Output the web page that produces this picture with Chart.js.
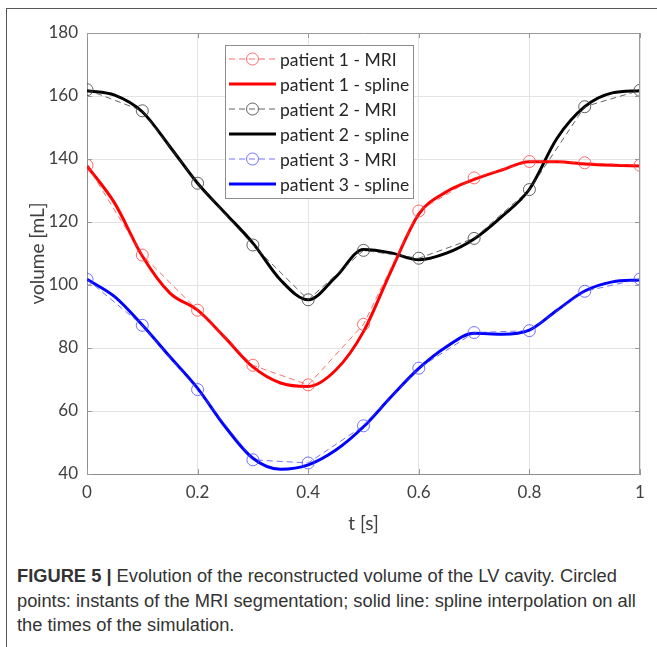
<!DOCTYPE html>
<html>
<head>
<meta charset="utf-8">
<script src="https://cdn.jsdelivr.net/npm/chart.js@4.4.0/dist/chart.umd.min.js"></script>
<style>
  html, body { margin: 0; padding: 0; background: #fff; }
  #wrap { position: relative; width: 657px; height: 647px; overflow: hidden; }
  #frame { position: absolute; left: 6px; top: 8px; width: 660px; height: 660px;
           border-left: 1.5px solid #555; border-top: 1.5px solid #555; }
  #chart { position: absolute; left: 0; top: 0; }
  #caption { position: absolute; left: 17px; top: 564px; color: #333;
             font-family: "Liberation Sans", Arial, sans-serif; font-size: 18.3px;
             line-height: 24.5px; white-space: nowrap; }
  #caption b { font-weight: bold; }
</style>
</head>
<body>
<div id="wrap">
  <div id="frame"></div>
  <canvas id="chart" width="657" height="548"></canvas>
  <div id="caption">
    <b>FIGURE 5 |</b> Evolution of the reconstructed volume of the LV cavity. Circled<br>
    points: instants of the MRI segmentation; solid line: spline interpolation on all<br>
    the times of the simulation.
  </div>
</div>
<script>
// MRI instants (s) and measured volumes (mL)
var mriTimes = [0, 0.1, 0.2, 0.3, 0.4, 0.5, 0.6, 0.7, 0.8, 0.9, 1];
var p1Mri = [138, 109.5, 92, 74.5, 68.3, 87.5, 123.5, 134, 139.2, 138.8, 138];
var p2Mri = [162, 155.3, 132.3, 112.7, 95.3, 111, 108.5, 114.8, 130.3, 156.6, 161.8];
var p3Mri = [101.8, 87.2, 66.8, 44.5, 43.5, 55.3, 73.6, 84.9, 85.5, 98, 101.9];

// spline curves read at 0.05 s
var splineTimes = [0, 0.05, 0.1, 0.15, 0.2, 0.25, 0.3, 0.35, 0.4, 0.45, 0.5,
                   0.55, 0.6, 0.65, 0.7, 0.75, 0.8, 0.85, 0.9, 0.95, 1];
var p1Spline = [137.8, 126, 109.2, 97.4, 92, 83.2, 74, 68.9, 67.8, 73, 85.2,
                104.5, 122.5, 129.6, 133.5, 136.5, 139.1, 139.1, 138.4, 138, 137.8];
var p2Spline = [161.7, 160.3, 155, 143.9, 132.3, 122.8, 113.3, 101.6, 95.3, 102.6, 111.3,
                110.2, 108, 110.1, 114.6, 121.7, 130.4, 146.6, 156.6, 161, 161.7];
var p3Spline = [101.8, 96.3, 87.3, 77.2, 67.2, 55, 45, 41.5, 42.9, 47.6, 55,
                64.5, 73.5, 80.4, 84.7, 84.4, 85.7, 92, 98.1, 101, 101.6];

var xTicks = [0, 0.2, 0.4, 0.6, 0.8, 1];
var yMin = 40, yMax = 180, yStep = 20;

var seriesNames = ['patient 1 - MRI', 'patient 1 - spline', 'patient 2 - MRI',
                   'patient 2 - spline', 'patient 3 - MRI', 'patient 3 - spline'];

var axisFont = { family: 'Lato, "Open Sans", sans-serif', size: 17 };
var titleFont = { family: 'Lato, "Open Sans", sans-serif', size: 19 };
var axisColor = '#404040';

function toPoints(xs, ys) {
  return xs.map(function (x, i) { return { x: x, y: ys[i] }; });
}

function mriSet(label, values, color) {
  return {
    label: label, data: toPoints(mriTimes, values),
    borderColor: color, borderWidth: 1, borderDash: [6, 4],
    pointRadius: 6, pointHoverRadius: 6, pointBorderWidth: 1,
    pointBorderColor: color, pointBackgroundColor: 'rgba(0,0,0,0)',
    tension: 0, order: 1
  };
}

function splineSet(label, values, color) {
  return {
    label: label, data: toPoints(splineTimes, values),
    borderColor: color, borderWidth: 3, pointRadius: 0,
    cubicInterpolationMode: 'monotone', order: 2
  };
}

// MATLAB style box + inward ticks
var boxPlugin = {
  id: 'box',
  afterDraw: function (chart) {
    var a = chart.chartArea, c = chart.ctx, ys = chart.scales.y, xs = chart.scales.x;
    c.save();
    c.strokeStyle = '#9a9a9a';
    c.lineWidth = 1;
    c.beginPath();
    c.moveTo(a.left, a.top + 0.5); c.lineTo(a.right, a.top + 0.5);
    c.moveTo(a.right - 0.5, a.top); c.lineTo(a.right - 0.5, a.bottom);
    ys.ticks.forEach(function (t) {
      var y = Math.round(ys.getPixelForValue(t.value)) + 0.5;
      c.moveTo(a.left, y); c.lineTo(a.left + 5, y);
      c.moveTo(a.right, y); c.lineTo(a.right - 5, y);
    });
    xs.ticks.forEach(function (t) {
      var x = Math.round(xs.getPixelForValue(t.value)) + 0.5;
      c.moveTo(x, a.bottom); c.lineTo(x, a.bottom - 5);
      c.moveTo(x, a.top); c.lineTo(x, a.top + 5);
    });
    c.stroke();
    c.restore();
  }
};

// legend drawn inside the axes, top centre
var legendPlugin = {
  id: 'insideLegend',
  afterDraw: function (chart) {
    var a = chart.chartArea, c = chart.ctx;
    var left = a.left + 138, top = a.top + 12, w = 188, rowH = 25;
    var sets = chart.data.datasets;
    c.save();
    c.fillStyle = '#fff';
    c.strokeStyle = '#8c8c8c';
    c.lineWidth = 1;
    c.fillRect(left, top, w, rowH * sets.length + 3);
    c.strokeRect(left + 0.5, top + 0.5, w, rowH * sets.length + 3);
    c.font = '17.5px ' + axisFont.family;
    c.textBaseline = 'middle';
    sets.forEach(function (ds, i) {
      var y = top + 14 + i * rowH;
      var x0 = left + 4, x1 = left + 51;
      c.strokeStyle = ds.borderColor;
      c.beginPath();
      if (ds.borderDash) {
        c.lineWidth = 1;
        c.setLineDash(ds.borderDash);
        c.moveTo(x0, y); c.lineTo(x1, y);
        c.stroke();
        c.setLineDash([]);
        c.beginPath();
        c.arc((x0 + x1) / 2, y, 6, 0, Math.PI * 2);
        c.stroke();
      } else {
        c.lineWidth = 3;
        c.moveTo(x0, y); c.lineTo(x1, y);
        c.stroke();
      }
      c.fillStyle = '#262626';
      c.fillText(ds.label, left + 55, y + 1);
    });
    c.restore();
  }
};

new Chart(document.getElementById('chart').getContext('2d'), {
  type: 'line',
  data: {
    datasets: [
      mriSet(seriesNames[0], p1Mri, 'rgba(255,60,60,0.75)'),
      splineSet(seriesNames[1], p1Spline, '#ff0000'),
      mriSet(seriesNames[2], p2Mri, 'rgba(60,60,60,0.8)'),
      splineSet(seriesNames[3], p2Spline, '#000000'),
      mriSet(seriesNames[4], p3Mri, 'rgba(70,70,255,0.75)'),
      splineSet(seriesNames[5], p3Spline, '#0000ff')
    ]
  },
  options: {
    responsive: false,
    animation: false,
    devicePixelRatio: 1,
    layout: { padding: { top: 33, right: 17, left: 0, bottom: 0 } },
    plugins: { legend: { display: false }, tooltip: { enabled: false } },
    scales: {
      x: {
        type: 'linear', min: 0, max: 1,
        afterBuildTicks: function (s) { s.ticks = xTicks.map(function (v) { return { value: v }; }); },
        ticks: {
          font: axisFont, color: axisColor, padding: 8, maxRotation: 0,
          callback: function (v) { return String(Math.round(v * 10) / 10); }
        },
        grid: { color: '#e3e3e3', drawTicks: false },
        border: { color: '#8c8c8c' },
        title: { display: true, text: 't [s]', font: titleFont, color: axisColor, padding: { top: 0, bottom: 13 } },
        afterFit: function (s) { s.height = 548 - 474; }
      },
      y: {
        min: yMin, max: yMax,
        ticks: { stepSize: yStep, font: axisFont, color: axisColor, padding: 9 },
        grid: { color: '#e3e3e3', drawTicks: false },
        border: { color: '#8c8c8c' },
        title: { display: true, text: 'volume [mL]', font: titleFont, color: axisColor, padding: { top: 26, bottom: 0 } },
        afterFit: function (s) { s.width = 87; }
      }
    }
  },
  plugins: [boxPlugin, legendPlugin]
});
</script>
</body>
</html>
